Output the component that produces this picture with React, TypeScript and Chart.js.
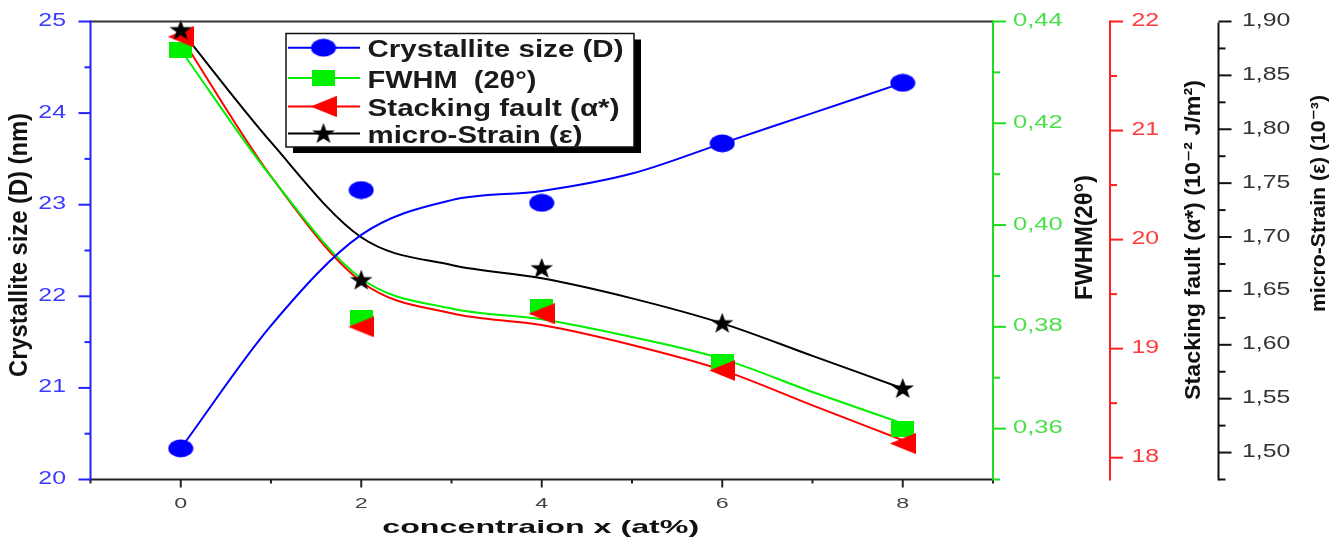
import React, { useEffect, useRef } from 'react';
import { Chart, registerables } from 'chart.js';

Chart.register(...registerables);

// Measured samples (concentration in at%)
const concentration = [0, 2, 4, 6, 8];
const crystalliteSize = [20.34, 23.16, 23.02, 23.67, 24.33];
const fwhm = [0.4344, 0.3817, 0.3839, 0.3731, 0.36];
const stackingFault = [21.86, 19.2, 19.32, 18.8, 18.13];
const microStrain = [1.892, 1.66, 1.671, 1.62, 1.5595];

// Smoothed fit curves, sampled at each integer concentration
const fitConcentration = [0, 1, 2, 3, 4, 5, 6, 7, 8];
const crystalliteFit = [20.34, 21.68, 22.67, 23.05, 23.15, 23.34, 23.67, 24.0, 24.33];
const fwhmFit = [0.4344, 0.4095, 0.3895, 0.3836, 0.3815, 0.378, 0.3737, 0.3672, 0.361];
const stackingFit = [21.86, 20.58, 19.614, 19.324, 19.216, 19.033, 18.803, 18.48, 18.16];
const strainFit = [1.892, 1.788, 1.6998, 1.674, 1.6617, 1.6431, 1.6199, 1.5897, 1.5595];

// Axis tick labels (major ticks)
const xTicks = [0, 2, 4, 6, 8];
const xMinorTicks = [-1, 1, 3, 5, 7, 9];
const sizeTicks = [20, 21, 22, 23, 24, 25];
const fwhmTicks = [0.36, 0.38, 0.4, 0.42, 0.44];
const faultTicks = [18, 19, 20, 21, 22];
const strainTicks = [1.5, 1.55, 1.6, 1.65, 1.7, 1.75, 1.8, 1.85, 1.9];

const seriesLabels = ['Crystallite size (D)', 'FWHM  (2θ°)', 'Stacking fault (α*)', 'micro-Strain (ε)'];

const BLUE = '#0000ff';
const GREEN = '#00f000';
const RED = '#ff0000';
const BLACK = '#000000';
const FONT = "'Liberation Sans', Arial, 'DejaVu Sans', sans-serif";

type TextOpts = {
  font: string;
  color: string;
  align?: 'left' | 'center' | 'right';
  baseline?: CanvasTextBaseline;
  width?: number;
  sx?: number;
  thick?: number;
  rotate?: boolean;
};

function drawText(ctx: CanvasRenderingContext2D, text: string, x: number, y: number, o: TextOpts) {
  ctx.save();
  ctx.font = o.font;
  ctx.fillStyle = o.color;
  ctx.textBaseline = o.baseline ?? 'alphabetic';
  ctx.textAlign = 'left';
  const w = ctx.measureText(text).width;
  const along = o.width ? o.width / w : o.sx ?? 1;
  ctx.translate(x, y);
  if (o.rotate) ctx.rotate(-Math.PI / 2);
  ctx.scale(along, o.thick ?? 1);
  const dx = o.align === 'center' ? -w / 2 : o.align === 'right' ? -w : 0;
  ctx.fillText(text, dx, 0);
  ctx.restore();
}

function seg(ctx: CanvasRenderingContext2D, x1: number, y1: number, x2: number, y2: number, color: string, w: number) {
  ctx.beginPath();
  ctx.strokeStyle = color;
  ctx.lineWidth = w;
  ctx.moveTo(x1, y1);
  ctx.lineTo(x2, y2);
  ctx.stroke();
}

function midTicks(majors: number[], min: number) {
  const step = majors[1] - majors[0];
  const out: number[] = [];
  majors.forEach((v) => {
    const m = v - step / 2;
    if (m >= min - 1e-9) out.push(m);
  });
  return out;
}

function makeMarker(w: number, h: number, draw: (c: CanvasRenderingContext2D) => void) {
  const c = document.createElement('canvas');
  c.width = w;
  c.height = h;
  const g = c.getContext('2d')!;
  draw(g);
  return c;
}

function buildMarkers() {
  const circle = makeMarker(26, 19, (g) => {
    g.fillStyle = BLUE;
    g.beginPath();
    g.ellipse(13, 9.5, 12.5, 9, 0, 0, Math.PI * 2);
    g.fill();
  });
  const square = makeMarker(23, 16, (g) => {
    g.fillStyle = GREEN;
    g.fillRect(0, 0, 23, 16);
  });
  const triangle = makeMarker(26, 21, (g) => {
    g.fillStyle = RED;
    g.beginPath();
    g.moveTo(0, 10.5);
    g.lineTo(26, 0);
    g.lineTo(26, 21);
    g.closePath();
    g.fill();
  });
  const star = makeMarker(24, 21, (g) => {
    g.fillStyle = BLACK;
    g.beginPath();
    const cx = 12, cy = 11, R = 11, r = 4.4;
    for (let k = 0; k < 10; k++) {
      const rad = k % 2 === 0 ? R : r;
      const a = -Math.PI / 2 + (k * Math.PI) / 5;
      const px = cx + rad * Math.cos(a) * 1.08;
      const py = cy + rad * Math.sin(a);
      if (k === 0) g.moveTo(px, py);
      else g.lineTo(px, py);
    }
    g.closePath();
    g.fill();
  });
  return { circle, square, triangle, star };
}

export default function App() {
  const ref = useRef<HTMLCanvasElement>(null);

  useEffect(() => {
    const canvas = ref.current;
    if (!canvas) return;
    const mk = buildMarkers();
    const legendMarkers = [mk.circle, mk.square, mk.triangle, mk.star];
    const legendColors = [BLUE, GREEN, RED, BLACK];

    const pts = (ys: number[]) => concentration.map((x, i) => ({ x, y: ys[i] }));
    const fit = (ys: number[]) => fitConcentration.map((x, i) => ({ x, y: ys[i] }));

    const curve = (data: number[], color: string, axis: string) => ({
      data: fit(data),
      yAxisID: axis,
      borderColor: color,
      borderWidth: 2,
      pointRadius: 0,
      fill: false,
      cubicInterpolationMode: 'monotone' as const,
      order: 10,
    });
    const marks = (label: string, data: number[], img: HTMLCanvasElement, axis: string, order: number) => ({
      label,
      data: pts(data),
      yAxisID: axis,
      showLine: false,
      pointStyle: img,
      pointRadius: 10,
      order,
      clip: false as const,
    });

    const axisDecor = {
      id: 'axisDecor',
      afterDraw(chart: any) {
        const ctx: CanvasRenderingContext2D = chart.ctx;
        const { left, right, top, bottom } = chart.chartArea;
        const sX = chart.scales.x;
        const sD = chart.scales.y;
        const sF = chart.scales.y1;
        const sS = chart.scales.y2;
        const sE = chart.scales.y3;
        ctx.save();
        ctx.lineCap = 'butt';

        // frame top and x axis
        seg(ctx, left, top, right, top, '#333', 2);
        seg(ctx, left - 1, bottom, right + 1, bottom, '#222', 2);
        xTicks.forEach((v) => {
          const x = sX.getPixelForValue(v);
          seg(ctx, x, bottom, x, bottom + 8, '#222', 2);
          drawText(ctx, String(v), x, 508, { font: `15px ${FONT}`, color: '#444', align: 'center', sx: 1.55 });
        });
        xMinorTicks.forEach((v) => {
          const x = sX.getPixelForValue(v);
          seg(ctx, x, bottom, x, bottom + 4, '#222', 2);
        });
        drawText(ctx, 'concentraion x (at%)', (left + right) / 2 - 1, 533, {
          font: `bold 19px ${FONT}`, color: '#111', align: 'center', width: 317,
        });

        // left axis: crystallite size
        const ax = left;
        seg(ctx, ax, top - 1, ax, bottom + 1, '#2222ff', 2);
        sizeTicks.forEach((v) => {
          const y = sD.getPixelForValue(v);
          seg(ctx, ax, y, ax - 12, y, '#2222ff', 2);
          drawText(ctx, String(v), ax - 24.5, y + 4.5, { font: `18px ${FONT}`, color: '#3b3bff', align: 'right', sx: 1.38 });
        });
        midTicks(sizeTicks, 20).forEach((v) => {
          const y = sD.getPixelForValue(v);
          seg(ctx, ax, y, ax - 6, y, '#2222ff', 2);
        });
        drawText(ctx, 'Crystallite size (D) (nm)', 20.5, 245, {
          font: `bold 23px ${FONT}`, color: '#111', align: 'center', baseline: 'middle', rotate: true, width: 264, thick: 1.1,
        });

        // right axis 1: FWHM
        const gx = sF.left;
        seg(ctx, gx, top - 1, gx, bottom + 1, '#1fdc1f', 2);
        fwhmTicks.forEach((v) => {
          const y = sF.getPixelForValue(v);
          seg(ctx, gx, y, gx + 13, y, '#1fdc1f', 2);
          drawText(ctx, v.toFixed(2).replace('.', ','), gx + 20, y + 4.5, { font: `18px ${FONT}`, color: '#4be04b', sx: 1.42 });
        });
        midTicks(fwhmTicks, 0.35).forEach((v) => {
          const y = sF.getPixelForValue(v);
          seg(ctx, gx, y, gx + 7, y, '#1fdc1f', 2);
        });
        drawText(ctx, 'FWHM(2θ°)', 1086, 237.5, {
          font: `bold 23px ${FONT}`, color: '#111', align: 'center', baseline: 'middle', rotate: true, width: 125,
        });

        // right axis 2: stacking fault
        const rx = sS.left;
        seg(ctx, rx, top - 1, rx, bottom + 1, '#ff2020', 2);
        faultTicks.forEach((v) => {
          const y = sS.getPixelForValue(v);
          seg(ctx, rx, y, rx + 13, y, '#ff2020', 2);
          drawText(ctx, String(v), rx + 21.5, y + 4.5, { font: `18px ${FONT}`, color: '#ff3a3a', sx: 1.38 });
        });
        midTicks(faultTicks, 17.8).forEach((v) => {
          const y = sS.getPixelForValue(v);
          seg(ctx, rx, y, rx + 7, y, '#ff2020', 2);
        });
        drawText(ctx, 'Stacking fault (α*) (10⁻² J/m²)', 1193.5, 240, {
          font: `bold 22px ${FONT}`, color: '#111', align: 'center', baseline: 'middle', rotate: true, width: 320,
        });

        // right axis 3: micro-strain
        const kx = sE.left;
        seg(ctx, kx, top + 1, kx, bottom + 1, '#111', 2);
        strainTicks.forEach((v) => {
          const y = sE.getPixelForValue(v);
          seg(ctx, kx, y, kx + 13, y, '#111', 2);
          drawText(ctx, v.toFixed(2).replace('.', ','), kx + 23.5, y + 4.5, { font: `18px ${FONT}`, color: '#333', sx: 1.38 });
        });
        midTicks(strainTicks, 1.475).forEach((v) => {
          const y = sE.getPixelForValue(v);
          seg(ctx, kx, y, kx + 7, y, '#111', 2);
        });
        drawText(ctx, 'micro-Strain (ε) (10⁻³)', 1319, 203.5, {
          font: `bold 21px ${FONT}`, color: '#111', align: 'center', baseline: 'middle', rotate: true, width: 217,
        });

        // legend box with drop shadow
        const lx = 286, ly = 33.5, lw = 348, lh = 113.5;
        ctx.fillStyle = '#000';
        ctx.fillRect(lx + 7, ly + 6, lw, lh);
        ctx.fillStyle = '#fff';
        ctx.fillRect(lx, ly, lw, lh);
        ctx.strokeStyle = '#111';
        ctx.lineWidth = 1.5;
        ctx.strokeRect(lx, ly, lw, lh);
        const markerY = [47.7, 78, 106.5, 133.5];
        const baseY = [56.7, 87.5, 115.5, 143];
        const textW = [256, 169, 252, 215];
        seriesLabels.forEach((label, i) => {
          const my = markerY[i];
          seg(ctx, 288, my, 360, my, legendColors[i], 2);
          const img = legendMarkers[i];
          ctx.drawImage(img, 323.5 - img.width / 2, my - img.height / 2);
          drawText(ctx, label, 367.5, baseY[i], { font: `bold 23px ${FONT}`, color: '#1a1a1a', width: textW[i] });
        });

        ctx.restore();
      },
    };

    const hidden = {
      grid: { display: false },
      border: { display: false },
      ticks: { display: false },
    };

    const chart = new Chart(canvas, {
      type: 'line',
      data: {
        datasets: [
          marks(seriesLabels[0], crystalliteSize, mk.circle, 'y', 1),
          marks(seriesLabels[3], microStrain, mk.star, 'y3', 1),
          marks(seriesLabels[2], stackingFault, mk.triangle, 'y2', 2),
          marks(seriesLabels[1], fwhm, mk.square, 'y1', 3),
          curve(crystalliteFit, BLUE, 'y'),
          curve(fwhmFit, GREEN, 'y1'),
          curve(stackingFit, RED, 'y2'),
          curve(strainFit, BLACK, 'y3'),
        ] as any,
      },
      options: {
        animation: false,
        responsive: false,
        maintainAspectRatio: false,
        devicePixelRatio: 1,
        events: [],
        layout: { padding: { top: 21.5, left: 0, right: 0, bottom: 0 } },
        plugins: { legend: { display: false }, tooltip: { enabled: false } },
        scales: {
          x: { type: 'linear', position: 'bottom', min: -1, max: 9, ...hidden, afterFit: (s: any) => { s.height = 70.5; } },
          y: { type: 'linear', position: 'left', min: 20, max: 25, ...hidden, afterFit: (s: any) => { s.width = 90.5; } },
          y1: { type: 'linear', position: 'right', min: 0.35, max: 0.44, ...hidden, afterFit: (s: any) => { s.width = 117; } },
          y2: { type: 'linear', position: 'right', min: 17.8, max: 22, ...hidden, afterFit: (s: any) => { s.width = 108.5; } },
          y3: { type: 'linear', position: 'right', min: 1.475, max: 1.9, ...hidden, afterFit: (s: any) => { s.width = 119.5; } },
        } as any,
      },
      plugins: [axisDecor],
    });

    return () => chart.destroy();
  }, []);

  return (
    <div style={{ position: 'fixed', left: 0, top: 0, width: 1338, height: 550, background: '#fff' }}>
      <canvas ref={ref} width={1338} height={550} style={{ display: 'block', width: 1338, height: 550 }} />
    </div>
  );
}
